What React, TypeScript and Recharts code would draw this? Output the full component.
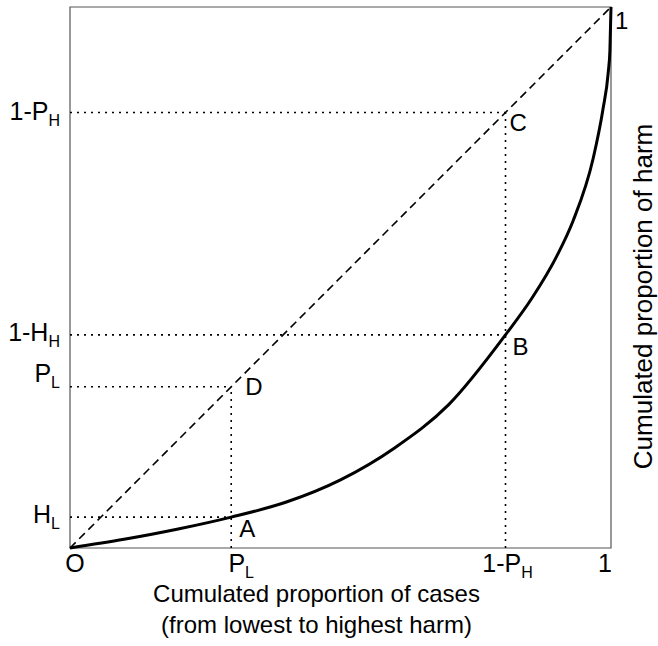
import React from 'react';
import {
  LineChart,
  Line,
  XAxis,
  YAxis,
  ReferenceLine,
  ReferenceArea,
  ReferenceDot
} from 'recharts';

// key proportions
const P_L = 0.298;
const H_L = 0.057;
const ONE_MINUS_P_H = 0.805;
const ONE_MINUS_H_H = 0.394;

// Lorenz-like curve (cases -> harm)
const curveX = [0, 0.1, 0.2, 0.298, 0.4, 0.5, 0.6, 0.7, 0.805, 0.854, 0.9, 0.93, 0.967, 0.985, 0.995, 0.998, 1];
const curveY = [0, 0.016, 0.035, 0.057, 0.085, 0.126, 0.185, 0.265, 0.394, 0.462, 0.54, 0.605, 0.72, 0.81, 0.88, 0.92, 1];

const xTicks = [0, P_L, ONE_MINUS_P_H, 1];
const xTickMain = ['O', 'P', '1-P', '1'];
const xTickSub = ['', 'L', 'H', ''];
const xTickShift = [5, 10, 2, -6];

const yTicks = [H_L, P_L, ONE_MINUS_H_H, ONE_MINUS_P_H];
const yTickMain = ['H', 'P', '1-H', '1-P'];
const yTickSub = ['L', 'L', 'H', 'H'];
const yTickShift = [6, -5, 6, 8];

const points = [
  { name: 'A', x: P_L, y: H_L, dx: 8, dy: 20 },
  { name: 'B', x: ONE_MINUS_P_H, y: ONE_MINUS_H_H, dx: 7, dy: 20 },
  { name: 'C', x: ONE_MINUS_P_H, y: ONE_MINUS_P_H, dx: 4, dy: 19 },
  { name: 'D', x: P_L, y: P_L, dx: 14, dy: 8 },
  { name: '1', x: 1, y: 1, dx: 4, dy: 22 }
];

const curve = curveX.map((x, i) => ({ x, y: curveY[i] }));

const FONT = '"Liberation Sans", Arial, sans-serif';
const DOTTED = '2 5';

function XTick(props: any) {
  const i = xTicks.indexOf(props.payload.value);
  if (i < 0) return null;
  return (
    <text x={props.x + xTickShift[i]} y={props.y + 22} textAnchor="middle" fontSize={25} fontFamily={FONT} fill="#000">
      <tspan>{xTickMain[i]}</tspan>
      {xTickSub[i] && <tspan fontSize={16} dy={6}>{xTickSub[i]}</tspan>}
    </text>
  );
}

function YTick(props: any) {
  const i = yTicks.indexOf(props.payload.value);
  if (i < 0) return null;
  return (
    <text x={props.x - 8} y={props.y + yTickShift[i]} textAnchor="end" fontSize={25} fontFamily={FONT} fill="#000">
      <tspan>{yTickMain[i]}</tspan>
      <tspan fontSize={16} dy={6}>{yTickSub[i]}</tspan>
    </text>
  );
}

function XTitle(props: any) {
  const vb = props.viewBox;
  const cx = vb.x + vb.width / 2 - 24;
  return (
    <g fontSize={24} fontFamily={FONT} fill="#000">
      <text x={cx} y={vb.y + 54} textAnchor="middle">Cumulated proportion of cases</text>
      <text x={cx} y={vb.y + 85} textAnchor="middle">(from lowest to highest harm)</text>
    </g>
  );
}

function YTitle(props: any) {
  const vb = props.viewBox;
  const cx = vb.x + 41;
  const cy = vb.y + vb.height / 2 + 19;
  return (
    <text x={cx} y={cy} transform={`rotate(-90 ${cx} ${cy})`} textAnchor="middle" fontSize={26} fontFamily={FONT} fill="#000">
      Cumulated proportion of harm
    </text>
  );
}

const pointLabel = (text: string, dx: number, dy: number) => (props: any) => {
  const vb = props.viewBox;
  return (
    <text x={vb.x + dx} y={vb.y + dy} fontSize={24} fontFamily={FONT} fill="#000">{text}</text>
  );
};

export default function App() {
  return (
    <div style={{ position: 'absolute', left: 0, top: 0, background: '#fff' }}>
      <LineChart width={658} height={646} data={curve} margin={{ top: 7, right: 0, bottom: 0, left: 0 }}>
        <XAxis
          dataKey="x"
          type="number"
          domain={[0, 1]}
          ticks={xTicks}
          tick={<XTick />}
          tickLine={false}
          tickSize={0}
          axisLine={false}
          height={98}
          interval={0}
          label={{ content: XTitle }}
        />
        <YAxis
          type="number"
          domain={[0, 1]}
          ticks={yTicks}
          tick={<YTick />}
          tickLine={false}
          tickSize={0}
          axisLine={false}
          width={70}
          interval={0}
        />
        <YAxis
          yAxisId="right"
          orientation="right"
          type="number"
          domain={[0, 1]}
          tick={false}
          tickLine={false}
          axisLine={false}
          width={47}
          label={{ content: YTitle }}
        />
        <ReferenceArea x1={0} x2={1} y1={0} y2={1} fill="none" stroke="#555" strokeWidth={1.2} />
        {/* dotted guides */}
        <ReferenceLine segment={[{ x: 0, y: H_L }, { x: P_L, y: H_L }]} stroke="#000" strokeWidth={1.6} strokeDasharray={DOTTED} />
        <ReferenceLine segment={[{ x: 0, y: P_L }, { x: P_L, y: P_L }]} stroke="#000" strokeWidth={1.6} strokeDasharray={DOTTED} />
        <ReferenceLine segment={[{ x: P_L, y: 0 }, { x: P_L, y: P_L }]} stroke="#000" strokeWidth={1.6} strokeDasharray={DOTTED} />
        <ReferenceLine segment={[{ x: 0, y: ONE_MINUS_H_H }, { x: ONE_MINUS_P_H, y: ONE_MINUS_H_H }]} stroke="#000" strokeWidth={1.6} strokeDasharray={DOTTED} />
        <ReferenceLine segment={[{ x: 0, y: ONE_MINUS_P_H }, { x: ONE_MINUS_P_H, y: ONE_MINUS_P_H }]} stroke="#000" strokeWidth={1.6} strokeDasharray={DOTTED} />
        <ReferenceLine segment={[{ x: ONE_MINUS_P_H, y: 0 }, { x: ONE_MINUS_P_H, y: ONE_MINUS_P_H }]} stroke="#000" strokeWidth={1.6} strokeDasharray={DOTTED} />
        {/* equality line */}
        <ReferenceLine segment={[{ x: 0, y: 0 }, { x: 1, y: 1 }]} stroke="#000" strokeWidth={1.6} strokeDasharray="8 5" />
        <Line
          dataKey="y"
          type="monotone"
          stroke="#000"
          strokeWidth={3}
          dot={false}
          activeDot={false}
          isAnimationActive={false}
        />
        {points.map(p => (
          <ReferenceDot
            key={p.name}
            x={p.x}
            y={p.y}
            r={0}
            fill="none"
            stroke="none"
            label={{ content: pointLabel(p.name, p.dx, p.dy) }}
          />
        ))}
      </LineChart>
    </div>
  );
}
